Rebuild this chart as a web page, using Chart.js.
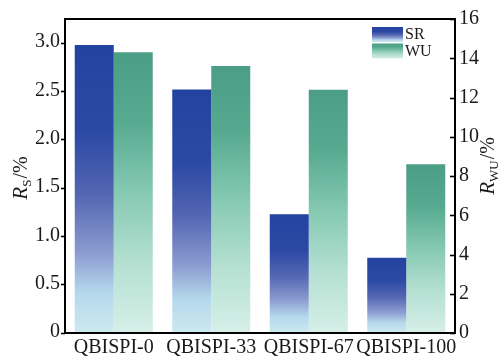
<!DOCTYPE html>
<html>
<head>
<meta charset="utf-8">
<script src="https://cdn.jsdelivr.net/npm/chart.js@4/dist/chart.umd.min.js"></script>
<style>
  html, body { margin: 0; padding: 0; background: #fff; }
  #wrap { width: 504px; height: 360px; position: relative; }
</style>
</head>
<body>
<div id="wrap"><canvas id="c"></canvas></div>
<script>
// Samples and measured ratios
const categories = ['QBISPI-0', 'QBISPI-33', 'QBISPI-67', 'QBISPI-100'];
const srValues = [2.98, 2.52, 1.23, 0.78];   // R_S, %
const wuValues = [14.3, 13.6, 12.4, 8.6];    // R_WU, %
const seriesNames = ['SR', 'WU'];
const leftTicks = [0, 0.5, 1.0, 1.5, 2.0, 2.5, 3.0];
const leftTickLabels = ['0', '0.5', '1.0', '1.5', '2.0', '2.5', '3.0'];
const rightTicks = [0, 2, 4, 6, 8, 10, 12, 14, 16];
const rightTickLabels = ['0', '2', '4', '6', '8', '10', '12', '14', '16'];

const SERIF = '"Liberation Serif", "Times New Roman", serif';
const INK = '#1a1a1a';

const srStops = [[0, '#2443a0'], [0.3, '#2b49a4'], [0.52, '#5466b2'], [0.72, '#8b9bd0'], [0.86, '#b4d8ec'], [1, '#cde9ef']];
const wuStops = [[0, '#4b9d85'], [0.25, '#57aa90'], [0.5, '#86c9b3'], [0.75, '#b4e0d2'], [1, '#d6efe8']];

function fillGradient(c, y0, y1, stops) {
  const g = c.createLinearGradient(0, y0, 0, y1);
  stops.forEach(([o, col]) => g.addColorStop(o, col));
  return g;
}

// each bar fades from its top down to the zero line
function barFill(stops, axisId) {
  return (ctx) => {
    const chart = ctx.chart;
    const scale = chart.scales[axisId];
    if (!chart.chartArea || !scale || ctx.type !== 'data') return stops[0][1];
    const top = scale.getPixelForValue(ctx.raw);
    const bottom = scale.getPixelForValue(0);
    return fillGradient(chart.ctx, top, bottom, stops);
  };
}

// frame, inward right-hand ticks, axis titles and legend
const decorations = {
  id: 'decorations',
  afterDraw(chart) {
    const c = chart.ctx;
    const a = chart.chartArea;
    c.save();

    // box frame
    c.strokeStyle = '#000';
    c.lineWidth = 2;
    c.strokeRect(a.left, a.top, a.right - a.left, a.bottom - a.top);

    // right axis ticks point into the plot
    const r = chart.scales.y1;
    c.lineWidth = 1.6;
    r.ticks.forEach(t => {
      const y = Math.round(r.getPixelForValue(t.value)) + 0.5;
      c.beginPath();
      c.moveTo(a.right - 5, y);
      c.lineTo(a.right, y);
      c.stroke();
    });

    // rotated axis titles with italic R and a subscript
    function vTitle(x, yCenter, sub) {
      const main = '20px ' + SERIF;
      const ital = 'italic 21px ' + SERIF;
      const small = '13px ' + SERIF;
      c.font = ital; const wR = c.measureText('R').width;
      c.font = small; const wS = c.measureText(sub).width;
      c.font = main; const wP = c.measureText('/%').width;
      const total = wR + wS + 1 + wP;
      c.save();
      c.translate(x, yCenter);
      c.rotate(-Math.PI / 2);
      c.fillStyle = INK;
      c.textBaseline = 'alphabetic';
      let px = -total / 2;
      const base = 7;
      c.font = ital; c.fillText('R', px, base); px += wR;
      c.font = small; c.fillText(sub, px, base + 4); px += wS + 1;
      c.font = main; c.fillText('/%', px, base);
      c.restore();
    }
    vTitle(a.left - 45, 178, 'S');
    vTitle(a.right + 32, 166, 'WU');

    // legend in the upper right corner
    const lx = a.right - 83, sw = 31;
    const rows = [[seriesNames[0], srStops, a.top + 8], [seriesNames[1], wuStops, a.top + 24.5]];
    c.font = '16px ' + SERIF;
    c.textBaseline = 'alphabetic';
    rows.forEach(([name, stops, y]) => {
      c.fillStyle = fillGradient(c, y, y + 15, stops);
      c.fillRect(lx, y, sw, 15);
      c.fillStyle = INK;
      c.fillText(name, lx + sw + 2, y + 12);
    });

    c.restore();
  }
};

const tickFont = { family: SERIF, size: 20 };

new Chart(document.getElementById('c'), {
  type: 'bar',
  data: {
    labels: categories,
    datasets: [
      { label: seriesNames[0], data: srValues, yAxisID: 'y', backgroundColor: barFill(srStops, 'y'), borderWidth: 0 },
      { label: seriesNames[1], data: wuValues, yAxisID: 'y1', backgroundColor: barFill(wuStops, 'y1'), borderWidth: 0 }
    ]
  },
  options: {
    responsive: true,
    maintainAspectRatio: false,
    animation: false,
    layout: { padding: { top: 19, left: 0, right: 0, bottom: 0 } },
    datasets: { bar: { categoryPercentage: 0.8, barPercentage: 1.0 } },
    plugins: { legend: { display: false }, tooltip: { enabled: false } },
    scales: {
      x: {
        grid: { display: false, drawTicks: false },
        border: { display: false },
        ticks: { font: tickFont, color: INK, padding: 3, maxRotation: 0, autoSkip: false },
        afterFit: s => { s.height = 27; }
      },
      y: {
        position: 'left',
        min: 0, max: 3.25,
        afterBuildTicks: s => { s.ticks = leftTicks.map(v => ({ value: v })); },
        ticks: { font: tickFont, color: INK, padding: 1, labelOffset: -1,
                 callback: (v, i) => leftTickLabels[i] },
        grid: { drawOnChartArea: false, drawTicks: true, tickLength: 4, tickWidth: 1.6, tickColor: '#000' },
        border: { display: false },
        afterFit: s => { s.width = 65; }
      },
      y1: {
        position: 'right',
        min: 0, max: 16,
        afterBuildTicks: s => { s.ticks = rightTicks.map(v => ({ value: v })); },
        ticks: { font: tickFont, color: INK, padding: 4,
                 callback: (v, i) => rightTickLabels[i] },
        grid: { display: false, drawTicks: false },
        border: { display: false },
        afterFit: s => { s.width = 49; }
      }
    }
  },
  plugins: [decorations]
});
</script>
</body>
</html>
